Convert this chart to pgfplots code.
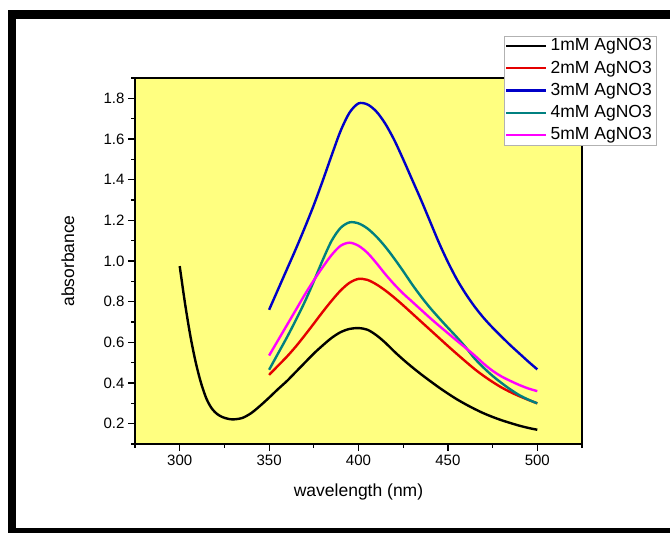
\documentclass[border=0pt]{standalone}
\usepackage{fontspec}
\setmainfont{Liberation Sans}
\usepackage{pgfplots}
\pgfplotsset{compat=1.18}
\definecolor{bgyellow}{RGB}{255,255,128}
\definecolor{cteal}{RGB}{0,128,128}
\definecolor{cred}{RGB}{228,0,0}
\definecolor{cblue}{RGB}{0,0,200}
\definecolor{cmag}{RGB}{255,0,255}
\begin{document}
\begin{tikzpicture}[x=1pt,y=1pt]
\path[use as bounding box] (0,0) rectangle (670,533);
\fill[white] (0,0) rectangle (670,533);
\begin{axis}[
  at={(135pt,89pt)}, anchor=south west, scale only axis,
  width=447pt, height=366pt,
  xmin=275, xmax=525, ymin=0.1, ymax=1.9,
  axis background/.style={fill=bgyellow},
  axis line style={line width=1.4pt},
  tick pos=left, tick align=outside,
  xtick={300,350,400,450,500},
  minor xtick={275,325,375,425,475,525},
  ytick={0.2,0.4,0.6,0.8,1.0,1.2,1.4,1.6,1.8},
  minor ytick={0.1,0.3,0.5,0.7,0.9,1.1,1.3,1.5,1.7,1.9},
  major tick length=7pt, minor tick length=4pt,
  every tick/.style={black, line width=1.2pt},
  /pgf/number format/assume math mode=true,
  ticklabel style={font=\fontsize{15}{17}\selectfont},
  yticklabel style={/pgf/number format/fixed,/pgf/number format/fixed zerofill,/pgf/number format/precision=1},
  xticklabel style={/pgf/number format/set thousands separator={}},
  xlabel={wavelength (nm)}, ylabel={absorbance},
  label style={font=\fontsize{17.5}{20}\selectfont},
  xlabel style={at={(axis description cs:0.5,-0.131)}, anchor=center},
  ylabel style={at={(axis description cs:-0.15,0.5)}, anchor=center},
  legend style={at={(0.8255,1.1148)}, anchor=north west, draw=gray!60, line width=0.5pt, fill=white,
    font=\fontsize{17.5}{19}\selectfont, inner sep=1pt, row sep=4.8pt,
    nodes={inner xsep=3pt, inner ysep=0pt, text height=13.5pt, text depth=4pt}},
  legend cell align=left,
  legend image code/.code={\draw[#1,line width=2.4pt] (0pt,0pt) -- (40pt,0pt);},
  every axis plot/.append style={line width=2.4pt, smooth},
]
\addplot[black] coordinates {
(300,0.975)(303,0.79)(306,0.63)(309,0.50)(312,0.398)(315,0.322)(318,0.274)(321,0.247)(324,0.232)(327,0.224)(330,0.221)(335,0.228)(340,0.252)(345,0.288)(350,0.328)(355,0.37)(360,0.41)(365,0.455)(370,0.50)(375,0.545)(380,0.585)(385,0.622)(390,0.65)(395,0.666)(400,0.67)(405,0.662)(410,0.635)(415,0.598)(420,0.555)(425,0.515)(430,0.478)(435,0.443)(440,0.41)(445,0.378)(450,0.348)(455,0.32)(460,0.295)(465,0.272)(470,0.251)(475,0.233)(480,0.217)(485,0.203)(490,0.19)(495,0.179)(500,0.17)};
\addlegendentry{1mM AgNO3}
\addplot[cred] coordinates {
(350,0.44)(355,0.485)(360,0.53)(365,0.58)(370,0.635)(375,0.692)(380,0.75)(385,0.805)(390,0.855)(395,0.893)(400,0.912)(405,0.907)(410,0.885)(415,0.855)(420,0.82)(425,0.782)(430,0.742)(435,0.702)(440,0.662)(445,0.622)(450,0.582)(455,0.543)(460,0.505)(465,0.468)(470,0.435)(475,0.405)(480,0.378)(485,0.355)(490,0.335)(495,0.317)(500,0.30)};
\addlegendentry{2mM AgNO3}
\addplot[cblue] coordinates {
(350,0.76)(355,0.86)(360,0.96)(365,1.06)(370,1.165)(375,1.275)(380,1.395)(385,1.52)(390,1.64)(395,1.73)(400,1.775)(405,1.77)(410,1.735)(415,1.675)(420,1.595)(425,1.50)(430,1.40)(435,1.30)(440,1.195)(445,1.09)(450,0.995)(455,0.91)(460,0.838)(465,0.775)(470,0.72)(475,0.672)(480,0.628)(485,0.585)(490,0.545)(495,0.505)(500,0.467)};
\addlegendentry{3mM AgNO3}
\addplot[cteal] coordinates {
(350,0.465)(355,0.545)(360,0.625)(365,0.71)(370,0.80)(375,0.90)(380,1.005)(385,1.10)(390,1.163)(395,1.19)(400,1.185)(405,1.16)(410,1.12)(415,1.07)(420,1.012)(425,0.95)(430,0.885)(435,0.825)(440,0.77)(445,0.72)(450,0.672)(455,0.625)(460,0.575)(465,0.52)(470,0.475)(475,0.435)(480,0.40)(485,0.368)(490,0.34)(495,0.318)(500,0.30)};
\addlegendentry{4mM AgNO3}
\addplot[cmag] coordinates {
(350,0.535)(355,0.61)(360,0.685)(365,0.76)(370,0.835)(375,0.905)(380,0.97)(385,1.03)(390,1.075)(395,1.09)(400,1.075)(405,1.04)(410,0.99)(415,0.935)(420,0.885)(425,0.84)(430,0.80)(435,0.76)(440,0.72)(445,0.682)(450,0.645)(455,0.608)(460,0.572)(465,0.535)(470,0.495)(475,0.46)(480,0.432)(485,0.41)(490,0.39)(495,0.373)(500,0.36)};
\addlegendentry{5mM AgNO3}
\end{axis}
\fill[black] (8,514) rectangle (670,523);
\fill[black] (8,0) rectangle (16,523);
\fill[black] (8,0) rectangle (670,5);
\end{tikzpicture}
\end{document}
